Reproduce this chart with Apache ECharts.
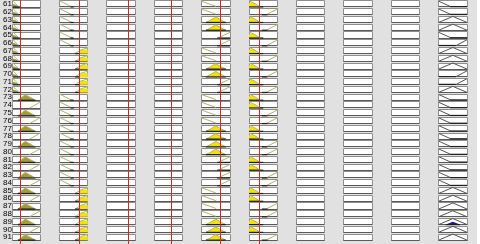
<!DOCTYPE html>
<html><head><meta charset="utf-8">
<script src="https://cdn.jsdelivr.net/npm/echarts@6/dist/echarts.min.js"></script>
<style>html,body{margin:0;padding:0;background:#fff}#c{width:480px;height:244px}</style>
</head><body><div id="c"></div>
<script>
// Row labels
const rowLabels = ['61','62','63','64','65','66','67','68','69','70','71','72','73','74','75','76','77','78','79','80','81','82','83','84','85','86','87','88','89','90','91'];

// Pattern code per row for each column ('' = empty cell)
const col1Pattern = ['S','S','S','S','S','S','S','S','S','S','S','S','H','R','H','R','H','R','H','R','H','R','H','R','H','R','H','R','H','R','H'];
const col2Pattern = ['D','D','D','D','D','D','Y','Y','Y','Y','Y','Y','D','D','D','D','D','D','D','D','D','D','D','D','Y','Y','Y','Y','Y','Y','Y'];
const col5Pattern = ['D','D','H','H','R','R','D','D','H','H','R','R','D','D','D','D','H','H','H','H','R','R','R','R','D','D','D','D','H','H','H'];
const col6Pattern = ['L','R','L','R','L','R','L','R','L','R','L','R','L','L','R','R','L','L','R','R','L','L','R','R','L','L','R','R','L','L','R'];
const col10Pattern = ['D','D','H','H','D','R','H','H','H','R','R','H','D','D','D','D','D','D','D','D','D','D','D','D','H','H','H','H','B','H','H'];
const emptyPattern = ['','','','','','','','','','','','','','','','','','','','','','','','','','','','','','',''];

// Red reference line position (x in 0..1 of each cell) per column, null = none
const refLines = [0.263, 0.705, 0.761, 0.607, 0.663, 0.368, null, null, null, null];

// Shape profiles: points [x, height] in cell units (x 0..1, height 0..1)
const col1Shapes = {
  S: {fill: [[0,0],[0,0.5],[0.08,0.42],[0.18,0.15],[0.26,0]], line: [[0.02,0.95],[0.1,0.55],[0.2,0.12]], base: [[0,0],[0.28,0]]},
  H: {fill: [[0.18,0],[0.45,0.92],[0.82,0]], line: [[0.18,0],[0.45,0.92],[0.82,0]], base: [[0.18,0],[0.82,0]]},
  R: {fill: null, line: [[0.6,0],[1,1]], base: null}
};
const col2Shapes = {
  D: {fill: null, line: [[0.03,0.95],[0.42,0.05]], base: [[0.38,0],[0.5,0]]},
  Y: {fill: [[0.68,0],[0.72,0.55],[0.8,0.62],[1,0.65],[1,0]], line: [[0.55,0],[0.75,0.6],[1,0.95]], base: [[0.55,0],[0.72,0]]}
};
const col5Shapes = {
  D: {fill: null, line: [[0.02,0.9],[0.5,0.1]], base: null},
  H: {fill: [[0.15,0],[0.3,0.35],[0.5,0.9],[0.7,0.35],[0.85,0]], line: [[0.15,0],[0.3,0.35],[0.5,0.9],[0.7,0.35],[0.85,0]], base: [[0.15,0],[0.85,0]]},
  R: {fill: null, line: [[0.6,0.05],[1,0.95]], base: [[0.55,0],[1,0]]}
};
const col6Shapes = {
  L: {fill: [[0,0],[0,0.6],[0.1,0.8],[0.25,0.45],[0.38,0]], line: [[0.02,0.95],[0.1,0.8],[0.25,0.45],[0.38,0]], base: [[0,0],[0.5,0]]},
  R: {fill: null, line: [[0.62,0.05],[1,0.95]], base: [[0.45,0],[0.65,0]]}
};
const col10Shapes = {
  D: {fill: null, line: [[0,0.95],[0.4,0.1]], base: [[0.4,0.05],[1,0.05]]},
  H: {fill: null, line: [[0,0],[0.5,1],[1,0]], base: null},
  B: {fill: [[0.25,0],[0.5,0.45],[0.75,0]], line: [[0,0],[0.5,1],[1,0]], base: [[0.25,0],[0.75,0]]},
  R: {fill: null, line: [[0.6,0],[1,1]], base: [[0,0.05],[0.6,0.05]]}
};

const columns = [
  {pattern: col1Pattern, shapes: col1Shapes, fill: '#a29c38', line: '#b4b46c'},
  {pattern: col2Pattern, shapes: col2Shapes, fill: '#f2e300', line: '#b4b46c'},
  {pattern: emptyPattern, shapes: {}, fill: '', line: ''},
  {pattern: emptyPattern, shapes: {}, fill: '', line: ''},
  {pattern: col5Pattern, shapes: col5Shapes, fill: '#f2e300', line: '#b4b46c'},
  {pattern: col6Pattern, shapes: col6Shapes, fill: '#f2e300', line: '#b4b46c'},
  {pattern: emptyPattern, shapes: {}, fill: '', line: ''},
  {pattern: emptyPattern, shapes: {}, fill: '', line: ''},
  {pattern: emptyPattern, shapes: {}, fill: '', line: ''},
  {pattern: col10Pattern, shapes: col10Shapes, fill: '#1a1a8a', line: '#555555'}
];

const chart = echarts.init(document.getElementById('c'), null, {renderer: 'canvas'});
const colLeft0 = 12, colPitch = 47.4, colWidth = 28.5;
const cellTop = 0.11, cellH = 0.78;
const snap = v => Math.round(v - 0.5) + 0.5;

const grids = [], xAxes = [], yAxes = [], series = [];
columns.forEach((col, c) => {
  grids.push({left: colLeft0 + colPitch * c, width: colWidth, top: 0, height: 241});
  xAxes.push({type: 'value', gridIndex: c, min: 0, max: 1, show: false});
  yAxes.push({type: 'value', gridIndex: c, min: 0, max: 31, inverse: true, show: false});
  series.push({
    type: 'custom', xAxisIndex: c, yAxisIndex: c, silent: true, clip: false, z: 2,
    data: col.pattern.map((p, i) => [i]),
    renderItem: function (params, api) {
      const i = api.value(0);
      const code = col.pattern[params.dataIndex];
      const pt = (x, v) => api.coord([x, i + cellTop + cellH * (1 - v)]);
      const p0 = api.coord([0, i + cellTop]);
      const p1 = api.coord([1, i + cellTop + cellH]);
      const x0 = snap(p0[0]), y0 = snap(p0[1]), x1 = snap(p1[0]), y1 = snap(p1[1]);
      const children = [{
        type: 'rect', shape: {x: x0, y: y0, width: x1 - x0, height: y1 - y0},
        style: {fill: '#ffffff', stroke: '#8e8e8e', lineWidth: 1}
      }, {
        type: 'line', shape: {x1: x0, y1: y1, x2: x1, y2: y1},
        style: {stroke: '#5a5a5a', lineWidth: 1}
      }];
      const s = col.shapes[code];
      if (s) {
        if (s.fill) children.push({type: 'polygon', shape: {points: s.fill.map(q => pt(q[0], q[1]))}, style: {fill: col.fill, stroke: null}});
        if (s.line) children.push({type: 'polyline', shape: {points: s.line.map(q => pt(q[0], q[1]))}, style: {stroke: col.line, lineWidth: 1, fill: null}});
        if (s.base) children.push({type: 'polyline', shape: {points: s.base.map(q => pt(q[0], q[1]))}, style: {stroke: '#1e1e1e', lineWidth: 1.2, fill: null}});
      }
      return {type: 'group', children: children};
    }
  });
  if (refLines[c] !== null) {
    series.push({
      type: 'custom', xAxisIndex: c, yAxisIndex: c, silent: true, clip: false, z: 20,
      data: [[refLines[c]]],
      renderItem: function (params, api) {
        const a = api.coord([api.value(0), 0]);
        const b = api.coord([api.value(0), 31]);
        const x = snap(a[0]);
        return {type: 'line', shape: {x1: x, y1: 0, x2: x, y2: b[1] + 3},
          style: {stroke: '#cc2a2a', lineWidth: 1}};
      }
    });
  }
});
// Category axis for row labels on first grid
yAxes.push({
  type: 'category', gridIndex: 0, data: rowLabels, inverse: true, position: 'left', offset: 0,
  axisLine: {show: false}, axisTick: {show: false}, splitLine: {show: false},
  axisLabel: {fontSize: 8, color: '#000', margin: 1, interval: 0, fontFamily: 'Liberation Sans'}
});

chart.setOption({
  backgroundColor: '#e1e1e1',
  animation: false,
  graphic: [{type: 'rect', right: 0, top: 0, shape: {width: 3, height: 244}, style: {fill: '#ffffff'}}],
  grid: grids, xAxis: xAxes, yAxis: yAxes, series: series
});
</script></body></html>
